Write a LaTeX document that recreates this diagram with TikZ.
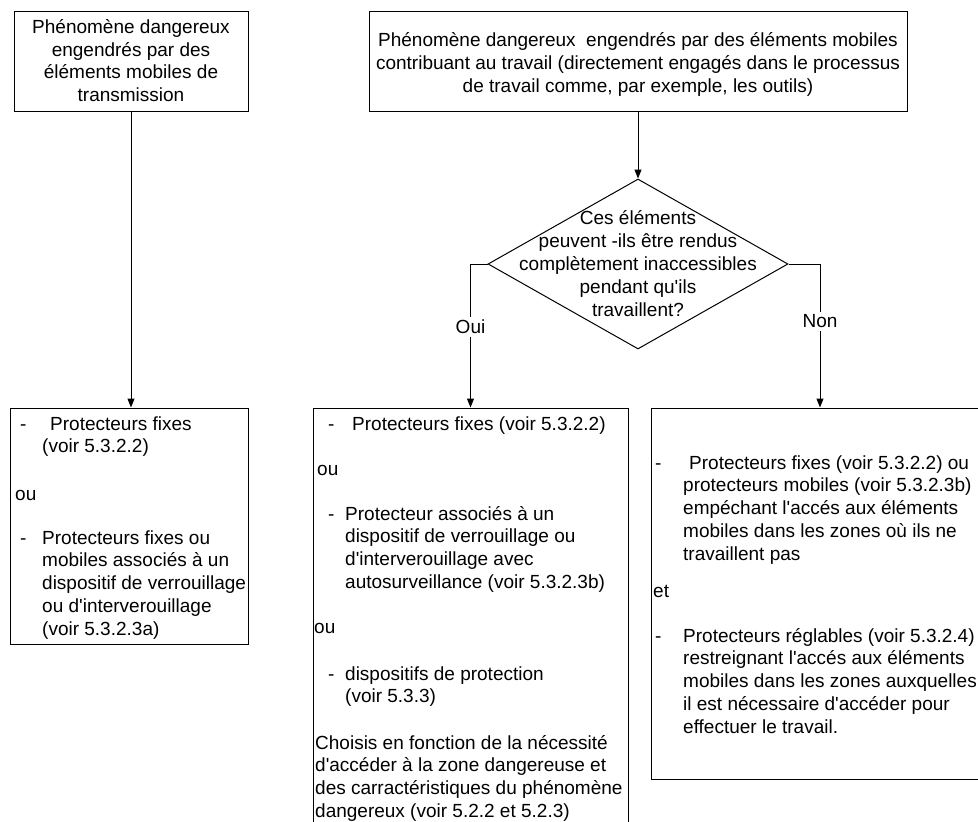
\documentclass[tikz,border=0pt]{standalone}
\usepackage{fontspec}
\setmainfont{Liberation Sans}[Ligatures=TeXOff]
\usetikzlibrary{shapes.geometric,arrows.meta}
\newcommand{\fsz}{\fontsize{19}{22.8}\selectfont}
\newcommand{\txtL}[1]{\begin{tabular}[t]{@{}l@{}}#1\end{tabular}}
\newcommand{\txtC}[1]{\begin{tabular}{@{}c@{}}#1\end{tabular}}
\begin{document}
\begin{tikzpicture}[x=1pt,y=-1pt,
  box/.style={draw=black, line width=1pt, rectangle, inner sep=0pt},
  dia/.style={draw=black, line width=1pt, diamond, aspect=1.765, inner sep=0pt, minimum width=300pt, minimum height=170pt},
  txt/.style={font=\fsz, inner sep=0pt, anchor=base west},
  ctxt/.style={font=\fsz, inner sep=0pt, anchor=center},
  arr/.style={line width=1pt, -{Triangle[length=9pt,width=7pt]}},
  lbl/.style={font=\fsz, fill=white, inner sep=3pt}]
\useasboundingbox (0,0) rectangle (978,822);
\clip (0,0) rectangle (978,822);
% boxes
\node[box, minimum width=234pt, minimum height=100pt] (A) at (131,61) {};
\node[box, minimum width=538pt, minimum height=100pt] (B) at (638,61) {};
\node[dia] (Q) at (638,264) {};
\node[box, minimum width=238pt, minimum height=236pt] (C) at (129,526) {};
\node[box, minimum width=315pt, minimum height=440pt] (D) at (470.5,628) {};
\node[box, minimum width=338pt, minimum height=371pt] (E) at (820,593.5) {};
% centred texts
\node[ctxt] (tA) at (131,63) {\txtC{Phénomène dangereux\\engendrés par des\\éléments mobiles de\\transmission}};
\node[ctxt] (tB) at (638,65) {\txtC{Phénomène dangereux~ engendrés par des éléments mobiles\\contribuant au travail (directement engagés dans le processus\\de travail comme, par exemple, les outils)}};
\node[ctxt] (tQ) at (638,266) {\txtC{Ces éléments\\peuvent -ils être rendus\\complètement inaccessibles\\pendant qu'ils\\travaillent?}};
% box C
\node[txt] (c1) at (20,430) {-};
\node[txt] (c2) at (42,430) {\txtL{\hspace{8pt}Protecteurs fixes\\(voir 5.3.2.2)}};
\node[txt] (c3) at (15,500) {ou};
\node[txt] (c4) at (20,544) {-};
\node[txt] (c5) at (42,544) {\txtL{Protecteurs fixes ou\\mobiles associés à un\\dispositif de verrouillage\\ou d'interverouillage\\(voir 5.3.2.3a)}};
% box D
\node[txt] (d1) at (328,430) {-};
\node[txt] (d2) at (352,430) {Protecteurs fixes (voir 5.3.2.2)};
\node[txt] (d3) at (317,475) {ou};
\node[txt] (d4) at (328,520) {-};
\node[txt] (d5) at (345,520) {\txtL{Protecteur associés à un\\dispositif de verrouillage ou\\d'interverouillage avec\\autosurveillance (voir 5.3.2.3b)}};
\node[txt] (d6) at (314,633) {ou};
\node[txt] (d7) at (328,680) {-};
\node[txt] (d8) at (345,680) {\txtL{dispositifs de protection\\(voir 5.3.3)}};
\node[txt] (d9) at (315,749) {\txtL{Choisis en fonction de la nécessité\\d'accéder à la zone dangereuse et\\des carractéristiques du phénomène\\dangereux (voir 5.2.2 et 5.2.3)}};
% box E
\node[txt] (e1) at (655,469) {-};
\node[txt] (e2) at (683,469) {\txtL{\hspace{6pt}Protecteurs fixes (voir 5.3.2.2) ou\\protecteurs mobiles (voir 5.3.2.3b)\\empéchant l'accés aux éléments\\mobiles dans les zones où ils ne\\travaillent pas}};
\node[txt] (e3) at (653,597) {et};
\node[txt] (e4) at (655,642) {-};
\node[txt] (e5) at (683,642) {\txtL{Protecteurs réglables (voir 5.3.2.4)\\restreignant l'accés aux éléments\\mobiles dans les zones auxquelles\\il est nécessaire d'accéder pour\\effectuer le travail.}};
% connectors
\draw[arr] (A.south) -- (A.south |- C.north);
\draw[arr] (B.south) -- (Q.north);
\draw[arr] (Q.west) -| node[lbl, pos=0.72] (oui) {Oui} (D.north);
\draw[arr] (Q.east) -| node[lbl, pos=0.70] (non) {Non} (E.north);
\end{tikzpicture}
\end{document}
